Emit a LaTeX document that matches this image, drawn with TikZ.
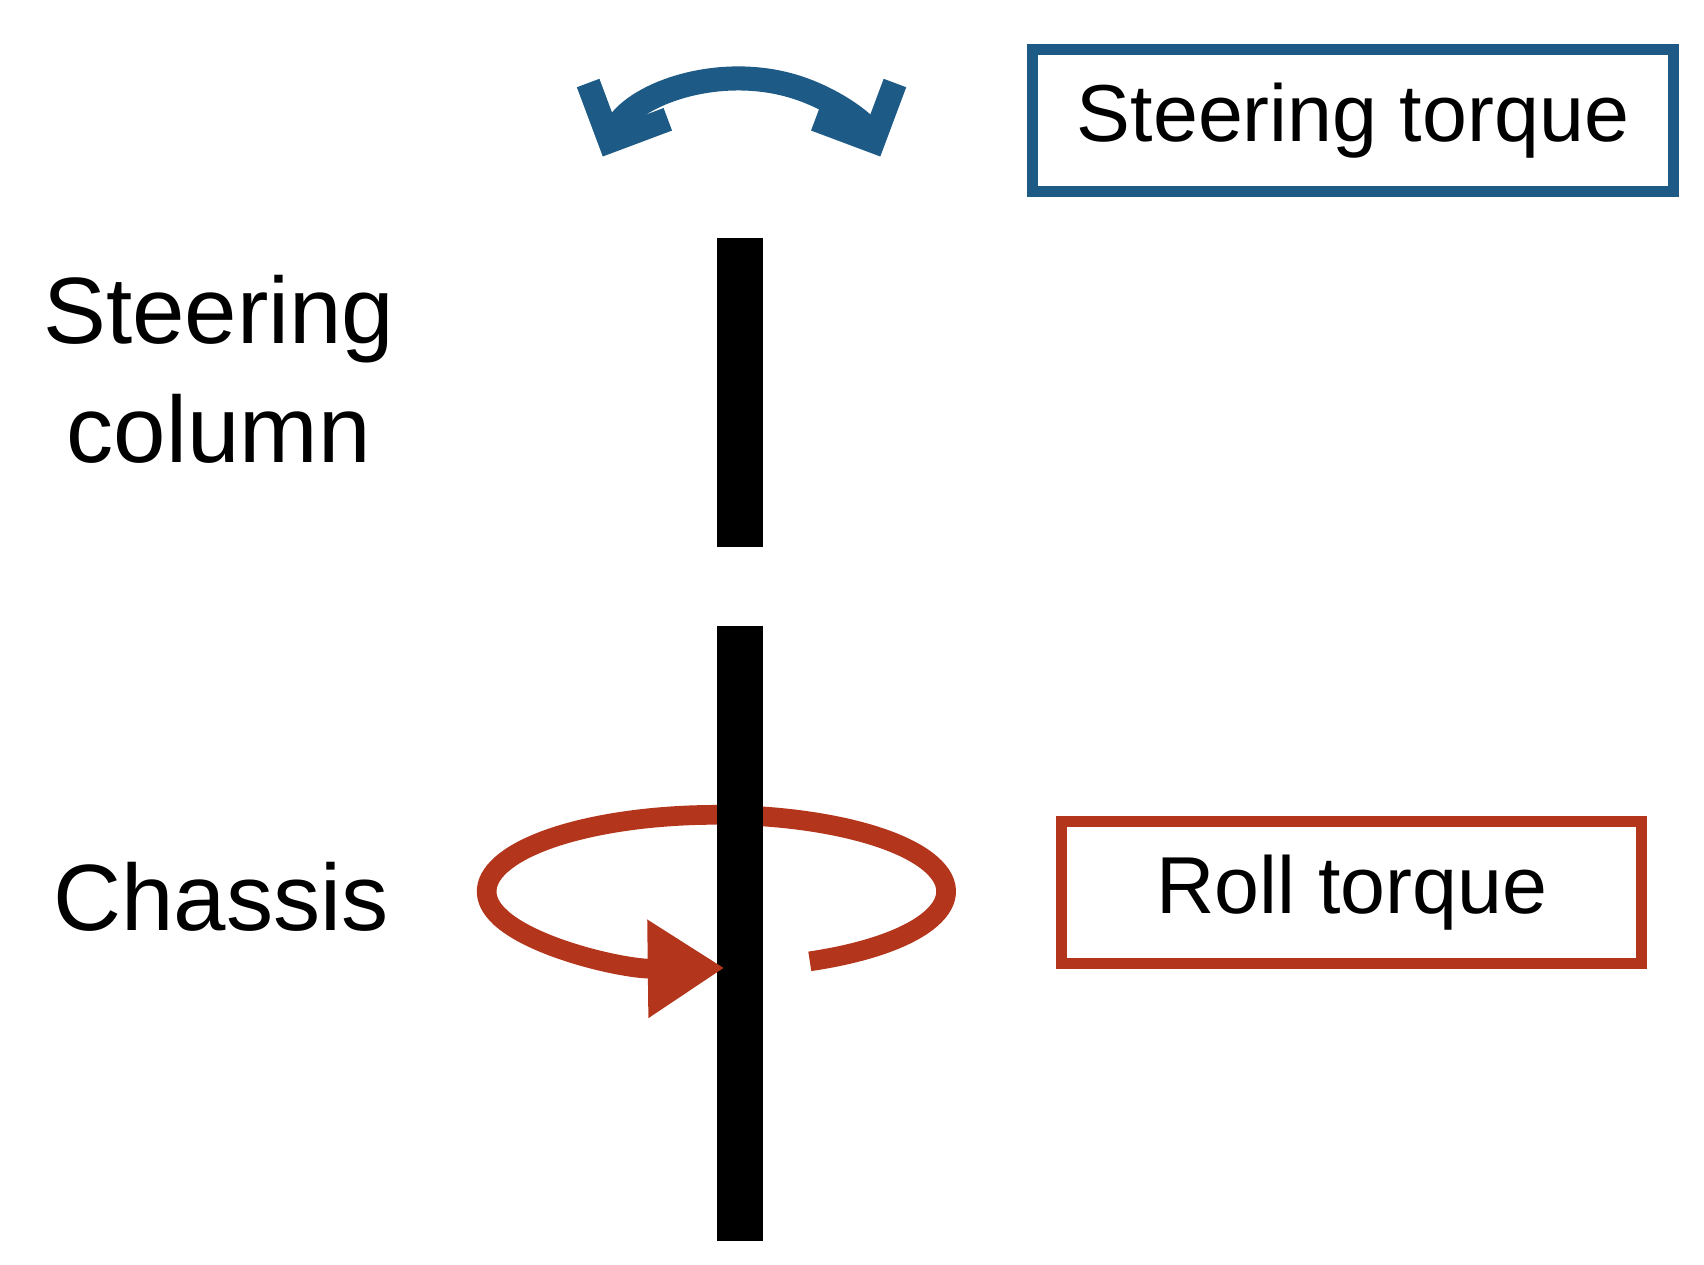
\documentclass[tikz,border=0pt]{standalone}
\usepackage{fontspec}
\setmainfont{Liberation Sans}
\usetikzlibrary{arrows.meta}
\definecolor{sblue}{HTML}{1D5A86}
\definecolor{rred}{HTML}{B3351C}
\begin{document}
\begin{tikzpicture}[x=0.01cm,y=-0.01cm,
  lbl/.style={font=\fontsize{24.5}{31}\selectfont,align=center},
  box/.style={draw,minimum height=1.3cm,font=\fontsize{21}{26}\selectfont,inner sep=0pt},
  bar/.style={line width=0.42cm,black}]
\useasboundingbox (0,0) rectangle (1558,1156);
% steering torque arrow
\draw[sblue,line width=0.22cm,{Straight Barb[length=0.4cm,width=0.8cm]}-{Straight Barb[length=0.4cm,width=0.8cm]}]
  (678,180) ++(-160:135 and 108) arc[start angle=-160,end angle=-20,x radius=135,y radius=108];
\node[box,draw=sblue,line width=0.1cm,minimum width=5.85cm] (st) at (1237,110) {Steering torque};
% bars
\coordinate (b1t) at (677,218); \coordinate (b1b) at (677,500);
\coordinate (b2t) at (677,572); \coordinate (b2b) at (677,1135);
% roll ring behind
\draw[rred,line width=0.18cm] (655,815) ++(66:210 and 70) arc[start angle=66,end angle=-200,x radius=210,y radius=70];
\draw[bar] (b1t) -- (b1b);
\draw[bar] (b2t) -- (b2b);
\draw[rred,line width=0.18cm,-{Triangle[length=0.7cm,width=0.85cm]}] (655,815) ++(-199:210 and 70) arc[start angle=-199,end angle=-272,x radius=210,y radius=70];
\node[box,draw=rred,line width=0.1cm,minimum width=5.3cm] (rt) at (1236,816) {Roll torque};
\node[lbl] (sc) at (200,338) {Steering\\column};
\node[lbl] (ch) at (202,820) {Chassis};
\end{tikzpicture}
\end{document}
